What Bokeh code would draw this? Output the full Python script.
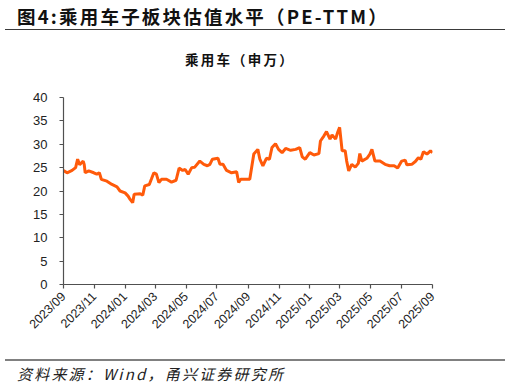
import pandas as pd
from bokeh.plotting import figure
from bokeh.layouts import column
from bokeh.models import Range1d, FixedTicker, DatetimeTickFormatter, Div
from bokeh.embed import file_html
from bokeh.resources import INLINE
from math import pi

dates = ["2023-09-01","2023-09-08","2023-09-18","2023-09-25","2023-09-29","2023-10-03","2023-10-10","2023-10-12",
         "2023-10-14","2023-10-21","2023-10-31","2023-11-06","2023-11-11","2023-11-15","2023-11-26","2023-12-06",
         "2023-12-16","2023-12-22","2024-01-01","2024-01-07","2024-01-11","2024-01-16","2024-01-19","2024-01-31",
         "2024-02-05","2024-02-09","2024-02-18","2024-02-22","2024-02-27","2024-03-03","2024-03-08","2024-03-13",
         "2024-03-23","2024-04-02","2024-04-11","2024-04-17","2024-04-24","2024-04-29","2024-05-05","2024-05-12",
         "2024-05-18","2024-05-28","2024-06-05","2024-06-12","2024-06-17","2024-06-22","2024-07-03","2024-07-07",
         "2024-07-13","2024-07-20","2024-07-30","2024-08-09","2024-08-13","2024-08-17","2024-09-04","2024-09-12",
         "2024-09-20","2024-09-24","2024-09-30","2024-10-07","2024-10-13","2024-10-18","2024-10-25","2024-10-31",
         "2024-11-07","2024-11-14","2024-11-24","2024-12-04","2024-12-12","2024-12-17","2024-12-23","2025-01-01",
         "2025-01-09","2025-01-19","2025-01-22","2025-01-29","2025-02-03","2025-02-10","2025-02-14","2025-02-21",
         "2025-02-25","2025-03-01","2025-03-06","2025-03-12","2025-03-15","2025-03-19","2025-03-25","2025-04-01",
         "2025-04-07","2025-04-10","2025-04-14","2025-04-24","2025-04-30","2025-05-04","2025-05-10","2025-05-20",
         "2025-05-30","2025-06-08","2025-06-17","2025-06-24","2025-07-02","2025-07-09","2025-07-12","2025-07-22",
         "2025-07-29","2025-08-04","2025-08-09","2025-08-14","2025-08-21","2025-08-28","2025-09-01"]
pe = [24.4,23.9,24.4,25.0,26.8,25.6,26.4,25.7,
      23.9,24.3,23.9,23.6,23.9,22.5,22.1,21.4,
      20.9,20.0,19.6,18.9,18.2,17.5,19.3,19.4,
      19.1,21.1,21.4,22.5,23.9,23.6,21.8,22.5,
      22.5,21.9,22.3,24.9,24.4,24.6,23.6,25.0,
      25.1,26.4,25.7,25.4,25.7,26.8,27.0,25.7,
      25.7,24.4,23.9,24.1,21.8,22.5,22.5,27.9,
      28.9,26.8,25.4,27.0,26.8,29.3,30.1,28.9,
      28.2,29.1,28.7,28.9,29.3,27.3,26.8,28.2,
      27.7,28.0,30.7,31.8,32.7,31.1,32.0,31.1,
      32.5,33.6,28.6,28.6,26.4,24.3,25.7,25.1,
      25.9,28.0,26.4,27.0,27.9,28.9,26.4,26.4,
      25.7,25.4,25.4,24.9,26.4,26.6,25.6,25.7,
      26.3,27.1,26.8,28.4,27.9,28.6,28.2]
tick_months = ["2023-09-01","2023-11-01","2024-01-01","2024-03-01","2024-05-01","2024-07-01","2024-09-01",
               "2024-11-01","2025-01-01","2025-03-01","2025-05-01","2025-07-01","2025-09-01"]
y_ticks = [0, 5, 10, 15, 20, 25, 30, 35, 40]

title_text = "图4:乘用车子板块估值水平（PE-TTM）"
chart_title = "乘用车（申万）"
source_text = "资料来源：Wind，甬兴证券研究所"

W = 510
HEAD_H, MAIN_H, FOOT_H = 85, 267, 35
CJK = "'Noto Sans CJK SC', sans-serif"

head_html = (
    f'<div style="position:relative;width:{W}px;height:{HEAD_H}px;margin:0;padding:0;">'
    f'<div style="position:absolute;left:17px;top:4px;white-space:nowrap;font-family:{CJK};'
    f'font-weight:bold;font-size:18.5px;letter-spacing:2.2px;color:#111;line-height:25px;">{title_text}</div>'
    f'<div style="position:absolute;left:5px;top:29px;width:500px;height:1.2px;background:#3a3a3a;"></div>'
    f'<div style="position:absolute;left:185px;top:49px;white-space:nowrap;font-family:{CJK};'
    f'font-weight:bold;font-size:13.5px;letter-spacing:2.2px;color:#111;line-height:20px;">{chart_title}</div>'
    '</div>'
)
foot_html = (
    f'<div style="position:relative;width:{W}px;height:{FOOT_H}px;margin:0;padding:0;">'
    f'<div style="position:absolute;left:5px;top:7px;width:500px;height:1.8px;background:#808080;"></div>'
    f'<div style="position:absolute;left:17px;top:11px;white-space:nowrap;font-family:{CJK};'
    f'font-style:italic;font-size:15px;letter-spacing:2.2px;color:#222;line-height:22px;">{source_text}</div>'
    '</div>'
)
head = Div(text=head_html, width=W, height=HEAD_H, margin=(0, 0, 0, 0))
foot = Div(text=foot_html, width=W, height=FOOT_H, margin=(0, 0, 0, 0))

# main chart
x = pd.to_datetime(dates)
ticks_ms = [pd.Timestamp(t).value // 10**6 for t in tick_months]

p = figure(width=W, height=MAIN_H, output_backend="svg", toolbar_location=None,
           x_axis_type="datetime",
           x_range=Range1d(pd.Timestamp(tick_months[0]), pd.Timestamp(tick_months[-1])),
           y_range=Range1d(0, 40),
           min_border_left=63, min_border_right=78, min_border_top=12, min_border_bottom=68)
p.outline_line_color = None
p.grid.visible = False

p.line(x, pe, line_color="#FF5A0A", line_width=3)

ax_col = "#505050"
p.yaxis.ticker = FixedTicker(ticks=y_ticks)
p.xaxis.ticker = FixedTicker(ticks=ticks_ms)
p.xaxis.formatter = DatetimeTickFormatter(years="%Y/%m", months="%Y/%m", days="%Y/%m", hours="%Y/%m")
for ax in (p.xaxis[0], p.yaxis[0]):
    ax.axis_line_color = ax_col
    ax.axis_line_width = 1.2
    ax.major_tick_line_color = ax_col
    ax.major_tick_line_width = 1.2
    ax.major_tick_in = 0
    ax.major_tick_out = 4
    ax.minor_tick_line_color = None
    ax.major_label_text_font = "Liberation Sans"
    ax.major_label_text_color = "#222222"
p.yaxis.major_label_text_font_size = "13px"
p.yaxis.major_label_standoff = 12
p.xaxis.major_label_text_font_size = "12.5px"
p.xaxis.major_label_standoff = 6
p.xaxis.major_label_orientation = pi / 4

layout = column(head, p, foot, spacing=0)
open("out.html", "w").write(file_html(layout, INLINE))
